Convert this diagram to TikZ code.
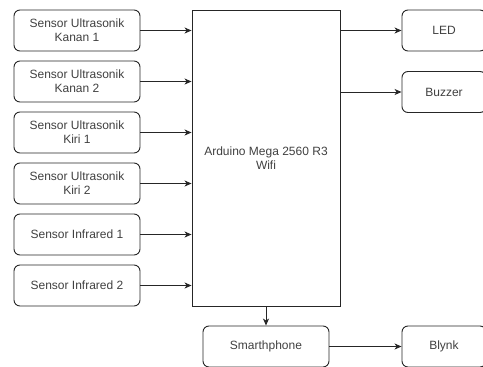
\documentclass[tikz,border=0pt]{standalone}
\usepackage{fontspec}
\setmainfont{Liberation Sans}
\usetikzlibrary{arrows.meta}
\begin{document}
\begin{tikzpicture}[x=1pt,y=-1pt,
  box/.style={draw=black!85, line width=0.9pt, rounded corners=6pt, minimum width=126pt, minimum height=41pt, inner sep=0pt, align=center, text=black!75, font=\fontsize{12}{14}\selectfont},
  rbox/.style={box, minimum width=84pt},
  bigbox/.style={draw=black!85, line width=0.9pt, minimum width=148pt, minimum height=296pt, inner sep=0pt, align=center, text=black!75, font=\fontsize{12}{14}\selectfont},
  conn/.style={draw=black!85, line width=0.9pt, -{Stealth[length=7pt,width=6pt,inset=2pt]}}]
\useasboundingbox (0,0) rectangle (483,367);
\clip (0,0) rectangle (483,367);
\node[box] (s1) at (77,30.5) {Sensor Ultrasonik\\Kanan 1};
\node[box] (s2) at (77,81.5) {Sensor Ultrasonik\\Kanan 2};
\node[box] (s3) at (77,132.5) {Sensor Ultrasonik\\Kiri 1};
\node[box] (s4) at (77,183.5) {Sensor Ultrasonik\\Kiri 2};
\node[box] (s5) at (77,234.5) {Sensor Infrared 1};
\node[box] (s6) at (77,285.5) {Sensor Infrared 2};
\node[bigbox] (ard) at (266,158) {Arduino Mega 2560 R3\\Wifi};
\node[rbox] (led) at (444,30.5) {LED};
\node[rbox] (buz) at (444,92) {Buzzer};
\node[box] (sp) at (266,346.5) {Smarthphone};
\node[rbox] (bly) at (444,346.5) {Blynk};
\foreach \s in {s1,s2,s3,s4,s5,s6}
  \draw[conn] (\s.east) -- (\s.east -| ard.west);
\draw[conn] (ard.east |- led.west) -- (led.west);
\draw[conn] (ard.east |- buz.west) -- (buz.west);
\draw[conn] (ard.south) -- (sp.north);
\draw[conn] (sp.east) -- (bly.west);
\end{tikzpicture}
\end{document}
